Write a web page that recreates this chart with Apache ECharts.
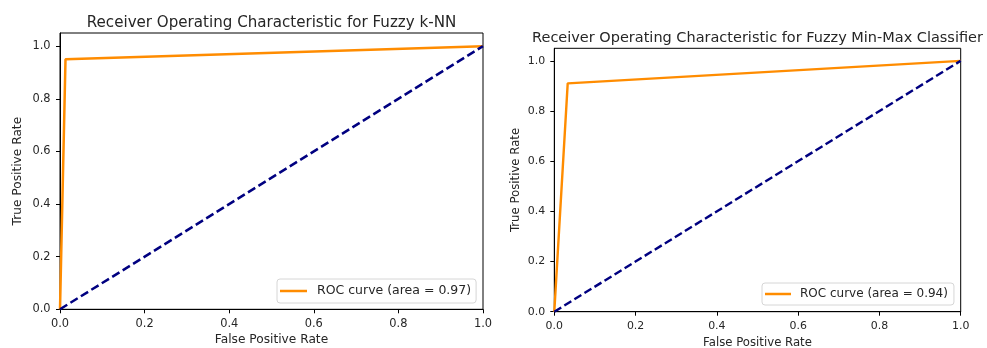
<!DOCTYPE html>
<html><head><meta charset="utf-8">
<script src="https://cdn.jsdelivr.net/npm/echarts@6/dist/echarts.min.js"></script>
<style>html,body{margin:0;padding:0;background:#fff}#c{width:987px;height:348px}</style>
</head><body><div id="c"></div>
<script>
// Data
const titles = ["Receiver Operating Characteristic for Fuzzy k-NN", "Receiver Operating Characteristic for Fuzzy Min-Max Classifier"];
const knnFpr = [0.0, 0.013, 1.0];
const knnTpr = [0.0, 0.95, 1.0];
const fmmFpr = [0.0, 0.033, 1.0];
const fmmTpr = [0.0, 0.91, 1.0];
const chanceX = [0.0, 1.0];
const chanceY = [0.0, 1.0];
const legendNames = ["ROC curve (area = 0.97)", "ROC curve (area = 0.94)"];
const tickValues = [0.0, 0.2, 0.4, 0.6, 0.8, 1.0];
const xLabel = "False Positive Rate";
const yLabel = "True Positive Rate";

const FONT = "DejaVu Sans";
const TXT = "#262626";
const zip = (a, b) => a.map((v, i) => [v, b[i]]);

// per-panel layout (right panel is ~0.96 scale of left)
const panels = [
  {grid: {left: 60, top: 33, width: 423, height: 276.3}, s: 1.0,
   xGap: 24.5, yGap: 36, legend: {left: 277, top: 279, padding: [5, 5, 5, 3], tp: 5, iw: 27},
   titleY: 30.3},
  {grid: {left: 554.3, top: 48.3, width: 406.4, height: 263.4}, s: 0.96,
   xGap: 24, yGap: 32.5, legend: {left: 762, top: 283, padding: [4, 6, 4, 3], tp: 4, iw: 26},
   titleY: 45.1}
];

function xAxisFor(i) {
  const s = panels[i].s;
  return {
    type: 'value', gridIndex: i, min: 0, max: 1,
    name: xLabel, nameLocation: 'middle', nameGap: panels[i].xGap,
    nameTextStyle: {fontFamily: FONT, fontSize: 12.2 * s, color: TXT},
    axisLine: {show: true, lineStyle: {color: '#000', width: 1}},
    axisTick: {show: true, length: 4, lineStyle: {color: '#000'}, customValues: tickValues},
    axisLabel: {fontFamily: FONT, fontSize: 11.4 * s, color: TXT, margin: 9,
      customValues: tickValues, formatter: v => v.toFixed(1)},
    splitLine: {show: false}
  };
}
function yAxisFor(i) {
  const s = panels[i].s;
  return {
    type: 'value', gridIndex: i, min: 0, max: 1.05,
    name: yLabel, nameLocation: 'middle', nameGap: panels[i].yGap, nameRotate: 90,
    nameTextStyle: {fontFamily: FONT, fontSize: 12.2 * s, color: TXT},
    axisLine: {show: true, lineStyle: {color: '#000', width: 1}},
    axisTick: {show: true, length: 4, lineStyle: {color: '#000'}, customValues: tickValues},
    axisLabel: {fontFamily: FONT, fontSize: 11.4 * s, color: TXT, margin: 9.5 * s,
      customValues: tickValues, formatter: v => v.toFixed(1)},
    splitLine: {show: false}
  };
}

const orange = '#ff8c00', navy = '#000080';
function roc(i, name, xs, ys) {
  return {type: 'line', name: name, xAxisIndex: i, yAxisIndex: i, data: zip(xs, ys),
    showSymbol: false, symbol: 'none', clip: false, animation: false,
    lineStyle: {color: orange, width: 2.5 * panels[i].s}, itemStyle: {color: orange}};
}
function chance(i) {
  const s = panels[i].s;
  return {type: 'line', name: 'chance' + i, xAxisIndex: i, yAxisIndex: i, data: zip(chanceX, chanceY),
    showSymbol: false, symbol: 'none', clip: false, animation: false,
    lineStyle: {color: navy, width: 2.5 * s, type: [8.5 * s, 3.8 * s]}};
}

function legendFor(i) {
  const p = panels[i], L = p.legend;
  return {
    data: [legendNames[i]], left: L.left, top: L.top,
    orient: 'vertical', icon: 'rect', itemWidth: L.iw, itemHeight: 2.5,
    backgroundColor: '#fff', borderColor: '#d6d6d6', borderWidth: 1, borderRadius: 3,
    padding: L.padding, selectedMode: false,
    textStyle: {fontFamily: FONT, fontSize: 12.5 * p.s, color: TXT, lineHeight: 14, padding: [0, 0, 0, L.tp]}
  };
}

const chart = echarts.init(document.getElementById('c'), null, {renderer: 'canvas'});
chart.setOption({
  animation: false,
  backgroundColor: '#fff',
  grid: panels.map(p => Object.assign({show: true, borderColor: '#000', borderWidth: 1, backgroundColor: 'transparent',
    containLabel: false, outerBoundsMode: 'none'}, p.grid)),
  xAxis: [xAxisFor(0), xAxisFor(1)],
  yAxis: [yAxisFor(0), yAxisFor(1)],
  legend: [legendFor(0), legendFor(1)],
  graphic: panels.map((p, i) => ({
    type: 'text', x: p.grid.left + p.grid.width / 2, y: p.titleY,
    style: {text: titles[i], fontFamily: FONT, fontSize: 15.1 * p.s, fill: TXT,
      textAlign: 'center', textVerticalAlign: 'bottom'}
  })),
  series: [
    roc(0, legendNames[0], knnFpr, knnTpr), chance(0),
    roc(1, legendNames[1], fmmFpr, fmmTpr), chance(1)
  ]
});
</script></body></html>
